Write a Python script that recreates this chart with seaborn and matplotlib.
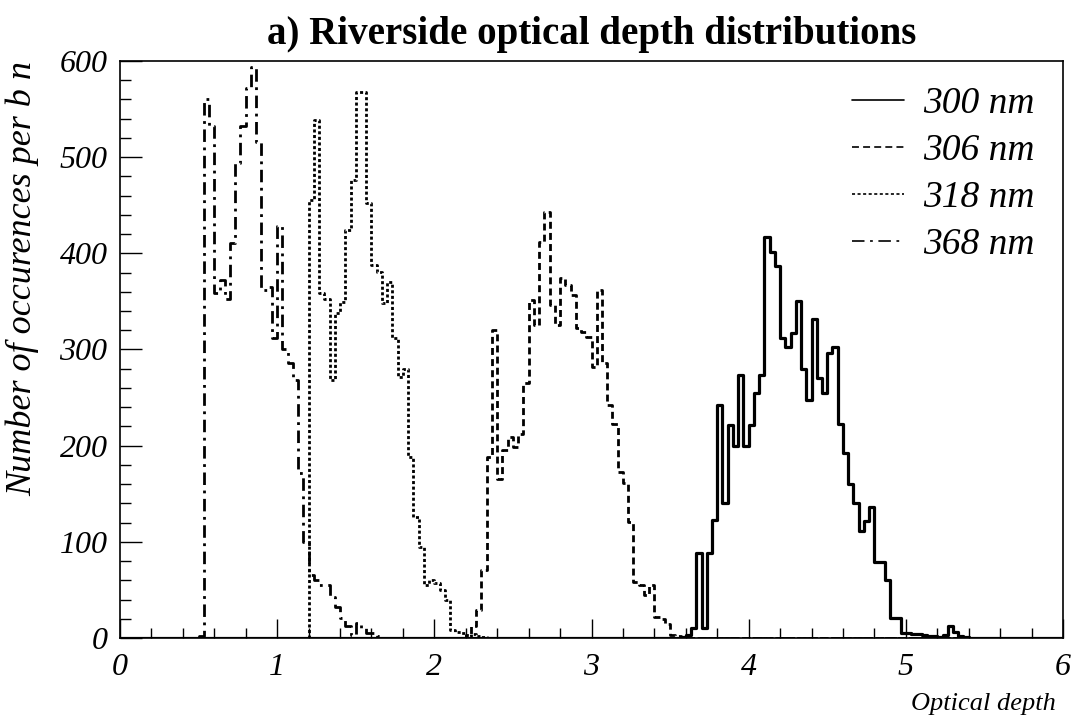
import numpy as np
import pandas as pd
import matplotlib
matplotlib.use("Agg")
import matplotlib.pyplot as plt
import seaborn as sns
from matplotlib.ticker import MultipleLocator
from matplotlib.lines import Line2D

sns.set_theme(style="white")
plt.rcParams['font.family'] = ['Liberation Serif', 'DejaVu Serif']
plt.rcParams['lines.scale_dashes'] = False
plt.rcParams['text.color'] = 'black'
plt.rcParams['axes.labelcolor'] = 'black'
plt.rcParams['xtick.color'] = 'black'
plt.rcParams['ytick.color'] = 'black'

# ---- data: bin counts (bin width 1/30 over 0..6) ----
n_bins = 180
x_range = (0.0, 6.0)

labels = ["300 nm", "306 nm", "318 nm", "368 nm"]

start_300 = 107
counts_300 = [1, 3, 10, 88, 10, 88, 123, 242, 140, 221, 200, 273, 200, 222, 255,
              273, 417, 401, 387, 312, 303, 317, 350, 280, 248, 332, 270, 255,
              296, 303, 223, 192, 160, 140, 111, 122, 136, 79, 79, 60, 21, 21,
              5, 5, 4, 4, 3, 2, 2, 1, 3, 12, 6, 2, 1]

start_306 = 66
counts_306 = [3, 12, 29, 71, 188, 320, 165, 195, 209, 199, 212, 265, 351, 325,
              412, 443, 346, 325, 374, 367, 357, 322, 318, 313, 282, 362, 286,
              242, 223, 173, 161, 121, 58, 55, 45, 55, 22, 20, 15, 3, 2, 1]

start_318 = 36
counts_318 = [455, 539, 359, 352, 268, 338, 349, 424, 476, 568, 568, 452, 388,
              381, 348, 370, 312, 271, 280, 188, 126, 95, 55, 60, 57, 50, 40, 8,
              6, 5, 2, 4, 2, 1]

start_368 = 15
counts_368 = [2, 560, 532, 359, 372, 353, 411, 494, 532, 572, 594, 516, 362, 365,
              312, 428, 300, 286, 268, 172, 100, 66, 60, 55, 55, 43, 32, 21, 12,
              3, 16, 10, 5, 5, 2]

series = [(start_300, counts_300), (start_306, counts_306),
          (start_318, counts_318), (start_368, counts_368)]
styles = ["-", (0, (5, 3)), (0, (2.2, 1.8)), (0, (9, 4, 2, 4))]
widths = [2.3, 2.0, 2.0, 2.0]

edges = np.linspace(x_range[0], x_range[1], n_bins + 1)
centers = 0.5 * (edges[:-1] + edges[1:])

fig = plt.figure(figsize=(10.77, 7.21), dpi=100)
ax = fig.add_axes([120 / 1077, 1 - 638 / 721, 943 / 1077, 577 / 721])

for (start, counts), ls, lw in zip(series, styles, widths):
    full = np.zeros(n_bins)
    full[start:start + len(counts)] = counts
    df = pd.DataFrame({"x": centers, "w": full})
    sns.histplot(data=df, x="x", weights="w", bins=n_bins, binrange=x_range,
                 element="step", fill=False, color="black", linewidth=lw,
                 linestyle=ls, ax=ax)

ax.set_xlim(0, 6)
ax.set_ylim(0, 600)

ax.xaxis.set_major_locator(MultipleLocator(1))
ax.xaxis.set_minor_locator(MultipleLocator(0.2))
ax.yaxis.set_major_locator(MultipleLocator(100))
ax.yaxis.set_minor_locator(MultipleLocator(20))
ax.tick_params(axis='both', which='both', direction='in', top=False, right=False,
               bottom=True, left=True, color='black', width=1.0)
ax.tick_params(axis='x', which='major', length=14, pad=11, labelsize=23)
ax.tick_params(axis='x', which='minor', length=7)
ax.tick_params(axis='y', which='major', length=16, pad=9, labelsize=23)
ax.tick_params(axis='y', which='minor', length=8)
for lab in ax.get_xticklabels() + ax.get_yticklabels():
    lab.set_fontstyle('italic')
    lab.set_color('black')

for sp in ax.spines.values():
    sp.set_visible(True)
    sp.set_color('black')
    sp.set_linewidth(1.2)

ax.set_xlabel("Optical depth", fontsize=19, fontstyle='italic',
              color='black', ha='right')
ax.xaxis.set_label_coords(0.9925, -0.095)
ax.set_ylabel("Number of occurences per b n", fontsize=26, fontstyle='italic',
              color='black', ha='right')
ax.yaxis.set_label_coords(-0.086, 1.0)

ax.set_title("a) Riverside optical depth distributions", fontsize=28,
             fontweight='bold', color='black', pad=12)

handles = [Line2D([], [], color='black', linestyle=ls, linewidth=1.2)
           for ls in styles]
leg = ax.legend(handles, labels, loc='upper left', bbox_to_anchor=(0.776, 0.955),
                frameon=False, prop={'size': 27, 'style': 'italic'},
                handlelength=1.4, handletextpad=0.5, labelspacing=0.33,
                borderpad=0, borderaxespad=0, labelcolor='black')

fig.savefig("out.png", dpi=100)
